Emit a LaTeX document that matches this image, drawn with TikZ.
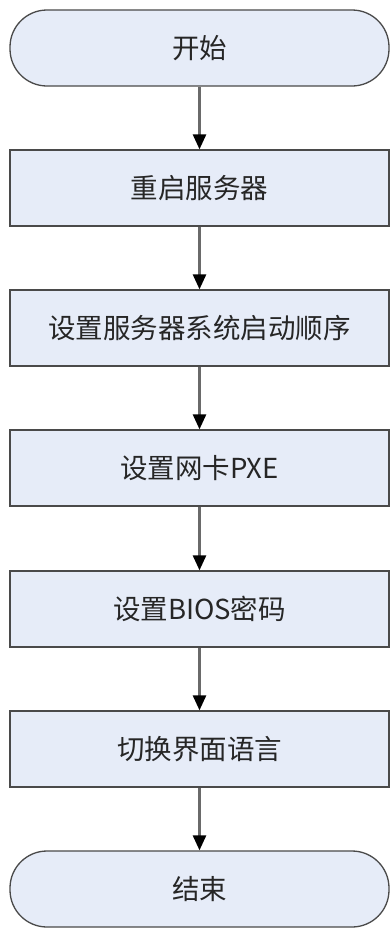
\documentclass[tikz,border=0pt]{standalone}
\usepackage{fontspec}
\setmainfont{Noto Sans CJK SC}
\usetikzlibrary{arrows.meta,positioning}
\definecolor{ffill}{HTML}{E6ECF8}
\definecolor{fline}{HTML}{4A4A4A}
\definecolor{farrow}{HTML}{6A6A6A}
\tikzset{
  proc/.style={draw=fline,fill=ffill,line width=1.3pt,minimum width=379pt,minimum height=76pt,inner sep=0pt,text=black!85,font=\fontsize{27.5}{32}\selectfont},
  term/.style={proc,rounded corners=37pt},
  arr/.style={-{Triangle[length=15pt,width=13pt,color=black]},line width=2.6pt,draw=farrow},
}
\begin{document}
\begin{tikzpicture}[x=1pt,y=-1pt]
  \useasboundingbox (0,0) rectangle (390,929);
  %流程节点
  \node[term] (start) at (199.5,48) {开始};
  \node[proc] (reboot) at (199.5,188) {重启服务器};
  \node[proc] (bootord) at (199.5,328) {设置服务器系统启动顺序};
  \node[proc] (pxe) at (199.5,468) {设置网卡PXE};
  \node[proc] (bios) at (199.5,609) {设置BIOS密码};
  \node[proc] (lang) at (199.5,749) {切换界面语言};
  \node[term] (stop) at (199.5,889) {结束};
  % 箭头
  \draw[arr] (start) -- (reboot);
  \draw[arr] (reboot) -- (bootord);
  \draw[arr] (bootord) -- (pxe);
  \draw[arr] (pxe) -- (bios);
  \draw[arr] (bios) -- (lang);
  \draw[arr] (lang) -- (stop);
\end{tikzpicture}
\end{document}
